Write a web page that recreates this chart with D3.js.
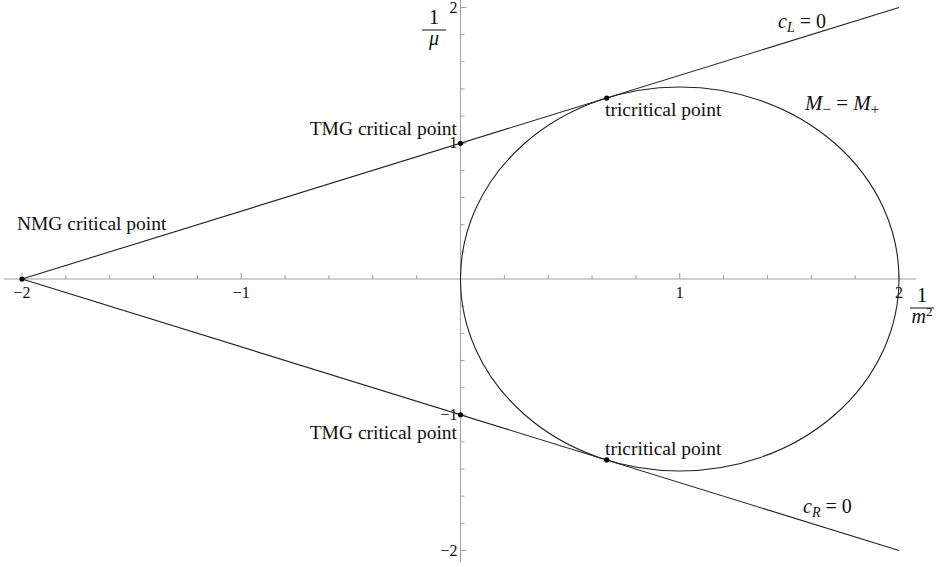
<!DOCTYPE html>
<meta charset="utf-8">
<script src="https://cdn.jsdelivr.net/npm/d3@7"></script>
<style>
  body { margin: 0; background: #fff; }
  svg text { fill: #111; }
  .axis line { stroke: #a0a0a0; }
  .curve { fill: none; stroke: #222; stroke-width: 1.1; }
</style>
<body>
<script>

// data, in plot units
var xTicks = [-2, -1, 1, 2];
var yTicks = [-2, -1, 1, 2];
var lineL = [[-2, 0], [2, 2]];      // c_L = 0
var lineR = [[-2, 0], [2, -2]];     // c_R = 0
var ellipse = {cx: 1, cy: 0, rx: 1, ry: 1.414};   // M- = M+
var points = [[-2, 0], [0, 1], [0, -1], [0.667, 1.333], [0.667, -1.333]];
var labels = [
    {text: "NMG critical point", x: -2.023, y: 0.36, anchor: "start"},
    {text: "TMG critical point", x: -0.016, y: 1.06, anchor: "end"},
    {text: "TMG critical point", x: -0.016, y: -1.18, anchor: "end"},
    {text: "tricritical point", x: 0.659, y: 1.20, anchor: "start"},
    {text: "tricritical point", x: 0.659, y: -1.30, anchor: "start"}
];

var W = 937, H = 567;
var serif = "'Liberation Serif', 'Times New Roman', 'DejaVu Serif', serif";

var x = d3.scaleLinear().domain([-2, 2]).range([22, 899]);
var y = d3.scaleLinear().domain([-2, 2]).range([550.5, 7.5]);

var svg = d3.select("body").append("svg")
    .attr("width", W)
    .attr("height", H)
    .attr("font-family", serif);

// x axis, ticks point up
var xAxis = svg.append("g").attr("class", "axis");
xAxis.append("line")
    .attr("x1", 4).attr("x2", 916)
    .attr("y1", y(0)).attr("y2", y(0));
var xMinor = d3.range(-20, 21, 2).map(d => d / 10).filter(d => d !== 0);
xAxis.selectAll(".tk").data(xMinor).enter().append("line")
    .attr("x1", d => x(d)).attr("x2", d => x(d))
    .attr("y1", y(0))
    .attr("y2", d => y(0) - (Number.isInteger(d) ? 6 : 4));
xAxis.selectAll(".lb").data(xTicks).enter().append("text")
    .attr("x", d => x(d))
    .attr("y", y(0) + 19)
    .attr("text-anchor", "middle")
    .style("font-size", "16px")
    .text(d => d < 0 ? "\u2212" + (-d) : d);

// y axis, ticks point right
var yAxis = svg.append("g").attr("class", "axis");
yAxis.append("line")
    .attr("x1", x(0)).attr("x2", x(0))
    .attr("y1", 0).attr("y2", 562);
var yMinor = d3.range(-20, 21, 2).map(d => d / 10).filter(d => d !== 0);
yAxis.selectAll(".tk").data(yMinor).enter().append("line")
    .attr("y1", d => y(d)).attr("y2", d => y(d))
    .attr("x1", x(0))
    .attr("x2", d => x(0) + (Number.isInteger(d) ? 6 : 4));
yAxis.selectAll(".lb").data(yTicks).enter().append("text")
    .attr("x", x(0) - 3)
    .attr("y", d => y(d) + 5)
    .attr("text-anchor", "end")
    .style("font-size", "16px")
    .text(d => d < 0 ? "\u2212" + (-d) : d);

// axis titles as fractions
function fraction(cx, top, denom) {
    var g = svg.append("g");
    g.append("text")
        .attr("x", cx).attr("y", top + 16)
        .attr("text-anchor", "middle")
        .style("font-size", "21px")
        .text("1");
    g.append("line")
        .attr("x1", cx - 12).attr("x2", cx + 12)
        .attr("y1", top + 22).attr("y2", top + 22)
        .style("stroke", "#111").style("stroke-width", 1);
    var t = g.append("text")
        .attr("x", cx).attr("y", top + 37)
        .attr("text-anchor", "middle")
        .style("font-size", "20px")
        .style("font-style", "italic");
    denom(t);
}
fraction(434, 8, t => t.text("\u03bc"));
fraction(922, 286, t => {
    t.append("tspan").text("m");
    t.append("tspan").attr("dy", -7).style("font-size", "13px").style("font-style", "normal").text("2");
});

// curves
var line = d3.line().x(d => x(d[0])).y(d => y(d[1]));
svg.append("path").attr("class", "curve").attr("d", line(lineL));
svg.append("path").attr("class", "curve").attr("d", line(lineR));
svg.append("ellipse").attr("class", "curve")
    .attr("cx", x(ellipse.cx)).attr("cy", y(ellipse.cy))
    .attr("rx", x(ellipse.rx) - x(0))
    .attr("ry", y(0) - y(ellipse.ry));

svg.selectAll(".pt").data(points).enter().append("circle")
    .attr("cx", d => x(d[0])).attr("cy", d => y(d[1]))
    .attr("r", 2.6)
    .style("fill", "#000");

svg.selectAll(".lab").data(labels).enter().append("text")
    .attr("x", d => x(d.x)).attr("y", d => y(d.y))
    .attr("text-anchor", d => d.anchor)
    .style("font-size", "19.5px")
    .text(d => d.text);

// curve names
function subLabel(px, py, main, sub) {
    var t = svg.append("text").attr("x", px).attr("y", py).style("font-size", "20px");
    t.append("tspan").style("font-style", "italic").text(main);
    t.append("tspan").attr("dy", 4).style("font-size", "14px").style("font-style", "italic").text(sub);
    t.append("tspan").attr("dy", -4).text(" = 0");
    return t;
}
subLabel(778, 28, "c", "L");
subLabel(803, 513, "c", "R");
var m = svg.append("text").attr("x", 805).attr("y", 110).style("font-size", "21px");
m.append("tspan").style("font-style", "italic").text("M");
m.append("tspan").attr("dy", 4).style("font-size", "15px").text("\u2212");
m.append("tspan").attr("dy", -4).text(" = ");
m.append("tspan").style("font-style", "italic").text("M");
m.append("tspan").attr("dy", 4).style("font-size", "15px").text("+");

</script>
</body>
</html>
